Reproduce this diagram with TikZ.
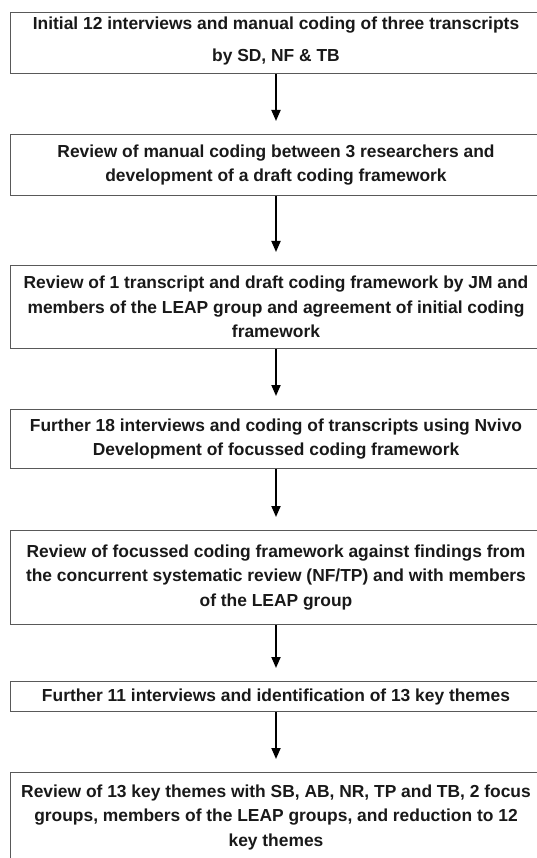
\documentclass[tikz,border=0pt]{standalone}
\usepackage{fontspec}
\setmainfont{Liberation Sans}
\usetikzlibrary{arrows.meta}
\begin{document}
\begin{tikzpicture}[x=1pt,y=-1pt,
  box/.style={draw=black!65, line width=1pt, anchor=north, minimum width=530.5pt,
    align=center, inner sep=0pt, text=black!90,
    font=\bfseries\fontsize{17.4}{24.5}\selectfont},
  arr/.style={line width=1.8pt, -{Triangle[length=11pt,width=9pt]}}]
\clip (0,0) rectangle (537,858);
\fill[white] (0,0) rectangle (537,858);
\node[box, minimum height=61pt, font=\bfseries\fontsize{17.4}{32}\selectfont] (b1) at (276,12)
  {Initial 12 interviews and manual coding of three transcripts\\by SD, NF \& TB\rule[-7pt]{0pt}{0pt}};
\node[box, minimum height=61pt] (b2) at (276,134)
  {Review of manual coding between 3 researchers and\\development of a draft coding framework};
\node[box, minimum height=83pt] (b3) at (276,265)
  {Review of 1 transcript and draft coding framework by JM and\\members of the LEAP group and agreement of initial coding\\framework};
\node[box, minimum height=59pt] (b4) at (276,409)
  {Further 18 interviews and coding of transcripts using Nvivo\\Development of focussed coding framework};
\node[box, minimum height=94pt] (b5) at (276,530)
  {Review of focussed coding framework against findings from\\the concurrent systematic review (NF/TP) and with members\\of the LEAP group};
\node[box, minimum height=30pt] (b6) at (276,681)
  {Further 11 interviews and identification of 13 key themes};
\node[box, minimum height=100pt] (b7) at (276,772)
  {Review of 13 key themes with SB, AB, NR, TP and TB, 2 focus\\groups, members of the LEAP groups, and reduction to 12\\key themes\rule[-14pt]{0pt}{0pt}};
\draw[arr] (b1.south) -- ([yshift=13pt]b2.north);
\draw[arr] (b2.south) -- ([yshift=13pt]b3.north);
\draw[arr] (b3.south) -- ([yshift=13pt]b4.north);
\draw[arr] (b4.south) -- ([yshift=13pt]b5.north);
\draw[arr] (b5.south) -- ([yshift=13pt]b6.north);
\draw[arr] (b6.south) -- ([yshift=13pt]b7.north);
\end{tikzpicture}
\end{document}
